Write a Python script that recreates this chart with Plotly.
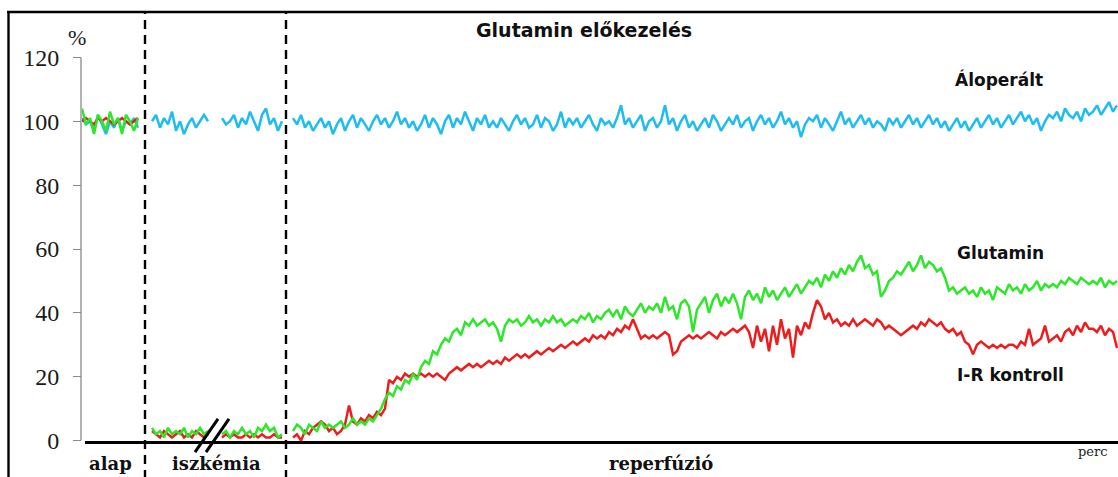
import plotly.graph_objects as go

# ---- recording time axis (sample positions, arbitrary units) ----
t_alap = list(range(0, 57, 4))        # baseline
t_isch1 = list(range(70, 127, 4))     # ischaemia, before the break
t_isch2 = list(range(140, 201, 4))    # ischaemia, after the break
t_rep = list(range(211, 1036, 4))     # reperfusion

PHASE_BOUNDS = [63, 204]
BREAK_T = 128

# ---- Áloperált (sham) ----
sham_alap = [101, 99, 100, 97, 102, 99, 96, 100, 98, 101, 97, 100, 99, 101, 98]
sham_isch1 = [100, 102, 98, 101, 99, 103, 97, 100, 96, 99, 101, 98, 100, 102, 100]
sham_isch2 = [101, 99, 100, 102, 98, 101, 99, 103, 100, 97, 102, 104, 99, 101, 97, 100]
sham_rep = [
    101, 99, 102, 98, 100, 97, 99, 101, 98, 100,
    96, 99, 101, 97, 100, 102, 98, 101, 99, 97,
    100, 102, 99, 101, 98, 100, 103, 99, 101, 98,
    100, 97, 99, 102, 98, 101, 99, 96, 100, 102,
    98, 101, 99, 103, 100, 97, 101, 99, 102, 98,
    100, 98, 101, 99, 97, 100, 102, 99, 101, 98,
    99, 102, 98, 101, 100, 97, 99, 103, 98, 101,
    99, 101, 98, 100, 102, 99, 97, 101, 99, 100,
    98, 101, 105, 99, 101, 98, 100, 102, 97, 100,
    101, 98, 100, 105, 99, 101, 97, 100, 102, 98,
    100, 97, 99, 101, 98, 102, 100, 97, 99, 101,
    99, 102, 98, 100, 101, 97, 100, 102, 99, 101,
    98, 100, 103, 99, 101, 98, 100, 95, 99, 101,
    100, 102, 98, 101, 99, 97, 100, 103, 99, 101,
    98, 100, 102, 99, 101, 98, 100, 99, 97, 101,
    99, 101, 98, 100, 102, 99, 101, 98, 100, 102,
    99, 101, 98, 100, 97, 99, 101, 98, 100, 97,
    99, 101, 98, 100, 102, 99, 101, 98, 100, 102,
    99, 101, 103, 100, 102, 99, 101, 97, 100, 102,
    101, 103, 100, 104, 102, 101, 103, 100, 104, 102,
    103, 105, 102, 104, 106, 103, 105,
]

# ---- I-R kontroll ----
ir_alap = [100, 101, 100, 99, 101, 100, 101, 100, 99, 100, 101, 100, 99, 100, 101]
ir_isch1 = [3, 2, 1, 3, 2, 1, 2, 3, 1, 2, 1, 3, 2, 1, 2]
ir_isch2 = [1, 2, 1, 2, 1, 1, 2, 1, 2, 1, 2, 1, 1, 2, 1, 1]
ir_rep = [
    1, 2, 0, 3, 2, 4, 5, 6, 5, 3,
    4, 2, 3, 5, 11, 6, 5, 7, 6, 8,
    7, 9, 8, 10, 19, 18, 20, 19, 21, 20,
    21, 20, 21, 20, 21, 20, 21, 20, 19, 21,
    22, 23, 22, 23, 24, 23, 24, 23, 24, 25,
    24, 25, 24, 26, 25, 26, 27, 26, 27, 26,
    27, 28, 27, 28, 29, 28, 29, 30, 29, 30,
    31, 30, 31, 32, 31, 33, 32, 33, 32, 34,
    33, 35, 34, 36, 35, 38, 35, 32, 33, 32,
    33, 32, 33, 34, 33, 27, 28, 31, 32, 33,
    32, 33, 32, 33, 34, 33, 32, 34, 33, 34,
    35, 34, 35, 36, 34, 29, 36, 31, 35, 28,
    36, 30, 38, 32, 35, 26, 36, 33, 37, 35,
    40, 44, 42, 38, 40, 37, 38, 36, 37, 36,
    38, 36, 37, 38, 37, 36, 38, 37, 35, 36,
    35, 34, 33, 34, 35, 36, 35, 37, 36, 38,
    37, 36, 37, 35, 34, 35, 33, 34, 31, 30,
    27, 30, 31, 30, 29, 30, 29, 30, 29, 30,
    30, 29, 31, 30, 35, 30, 31, 32, 36, 31,
    32, 33, 31, 34, 35, 33, 36, 34, 37, 35,
    35, 34, 36, 33, 35, 34, 29,
]

# ---- Glutamin ----
glu_alap = [104, 99, 101, 96, 102, 100, 97, 103, 99, 101, 96, 102, 100, 97, 101]
glu_isch1 = [4, 2, 3, 1, 4, 2, 3, 2, 4, 1, 3, 2, 4, 2, 3]
glu_isch2 = [2, 3, 1, 3, 2, 4, 2, 3, 1, 4, 3, 5, 3, 4, 1, 2]
glu_rep = [
    3, 5, 4, 2, 5, 4, 3, 6, 4, 5,
    4, 5, 6, 4, 5, 7, 5, 6, 5, 7,
    6, 8, 10, 13, 15, 14, 17, 16, 19, 18,
    21, 19, 23, 25, 24, 28, 27, 30, 32, 31,
    34, 35, 33, 37, 36, 38, 36, 37, 38, 36,
    37, 35, 31, 36, 38, 37, 38, 36, 37, 39,
    37, 38, 36, 38, 37, 39, 37, 38, 36, 37,
    38, 37, 39, 38, 40, 37, 39, 38, 40, 41,
    39, 41, 38, 42, 40, 39, 41, 43, 40, 42,
    41, 43, 40, 45, 41, 42, 38, 43, 44, 42,
    34, 41, 43, 45, 40, 44, 46, 42, 45, 43,
    46, 43, 38, 45, 47, 44, 46, 43, 48, 45,
    47, 44, 46, 48, 45, 47, 49, 46, 48, 50,
    49, 51, 48, 52, 50, 53, 51, 54, 52, 55,
    53, 56, 58, 54, 55, 52, 53, 45, 47, 50,
    51, 53, 52, 54, 56, 53, 55, 58, 54, 56,
    55, 53, 54, 51, 47, 48, 46, 47, 48, 46,
    47, 45, 48, 46, 47, 44, 48, 47, 46, 49,
    47, 48, 46, 49, 47, 48, 50, 47, 49, 48,
    49, 48, 50, 49, 51, 50, 49, 51, 50, 49,
    50, 49, 51, 48, 50, 49, 50,
]

Y_TICKS = [0, 20, 40, 60, 80, 100, 120]

SERIES = [
    ("Áloperált", "#1dbdf0", sham_alap, sham_isch1, sham_isch2, sham_rep),
    ("I-R kontroll", "#ee1c1c", ir_alap, ir_isch1, ir_isch2, ir_rep),
    ("Glutamin", "#2ee62a", glu_alap, glu_isch1, glu_isch2, glu_rep),
]

# ---- figure geometry ----
W, H = 1118, 477
ML, MR, MT, MB = 82, 0, 51, 30
X_RANGE = [0, 1036]
Y_RANGE = [-2, 122]
PW, PH = W - ML - MR, H - MT - MB


def px_x(px):
    return (px - ML) / PW


def px_y(py):
    return (H - MB - py) / PH


def t_to_paper(t):
    return (t - X_RANGE[0]) / (X_RANGE[1] - X_RANGE[0])


def v_to_paper(v):
    return (v - Y_RANGE[0]) / (Y_RANGE[1] - Y_RANGE[0])


def join(parts_t, parts_v):
    xs, ys = [], []
    for i, (tt, vv) in enumerate(zip(parts_t, parts_v)):
        if i:
            xs.append(None)
            ys.append(None)
        xs += tt
        ys += vv
    return xs, ys


fig = go.Figure()
segments_t = [t_alap, t_isch1, t_isch2, t_rep]
for name, color, a, i1, i2, r in SERIES:
    xs, ys = join(segments_t, [a, i1, i2, r])
    fig.add_trace(go.Scatter(
        x=xs, y=ys, mode="lines", name=name,
        line=dict(color=color, width=2.5),
        connectgaps=False, hoverinfo="skip",
    ))

shapes = []
# outer frame (top and left edges)
shapes.append(dict(type="line", xref="paper", yref="paper",
                   x0=px_x(7), x1=px_x(W + 2), y0=px_y(12), y1=px_y(12),
                   line=dict(color="black", width=2.4)))
shapes.append(dict(type="line", xref="paper", yref="paper",
                   x0=px_x(8.5), x1=px_x(8.5), y0=px_y(11), y1=px_y(H + 2),
                   line=dict(color="black", width=2.4)))
# y axis line from 0 to 120
shapes.append(dict(type="line", xref="paper", yref="paper",
                   x0=px_x(81), x1=px_x(81),
                   y0=v_to_paper(0), y1=v_to_paper(120),
                   line=dict(color="#8a8a8a", width=1.3)))
# heavy time axis line
shapes.append(dict(type="line", xref="paper", yref="paper",
                   x0=px_x(85), x1=1.01, y0=v_to_paper(-0.6), y1=v_to_paper(-0.6),
                   line=dict(color="black", width=3)))
# phase boundaries
for tb in PHASE_BOUNDS:
    shapes.append(dict(type="line", xref="paper", yref="paper",
                       x0=t_to_paper(tb), x1=t_to_paper(tb),
                       y0=px_y(H + 2), y1=px_y(12),
                       line=dict(color="black", width=2.4, dash="9px,6px")))
# axis break mark (double slash)
for dx in (0, 11):
    shapes.append(dict(type="line", xref="paper", yref="paper",
                       x0=t_to_paper(BREAK_T - 15 + dx), y0=v_to_paper(-3.6),
                       x1=t_to_paper(BREAK_T + 8 + dx), y1=v_to_paper(6.8),
                       line=dict(color="black", width=3)))

SERIF = "DejaVu Serif"
SANS = "DejaVu Sans"
annotations = [
    dict(text="<b>Glutamin előkezelés</b>", x=px_x(584), y=px_y(30),
         font=dict(family=SANS, size=19, color="#111")),
    dict(text="<b>Áloperált</b>", x=px_x(999), y=px_y(80),
         font=dict(family=SANS, size=17, color="#111")),
    dict(text="<b>Glutamin</b>", x=px_x(1000), y=px_y(253),
         font=dict(family=SANS, size=17, color="#111")),
    dict(text="<b>I-R kontroll</b>", x=px_x(1010), y=px_y(375),
         font=dict(family=SANS, size=17, color="#111")),
    dict(text="%", x=px_x(77), y=px_y(37),
         font=dict(family="Liberation Serif", size=22, color="#222")),
    dict(text="<b>alap</b>", x=px_x(110), y=px_y(464),
         font=dict(family=SERIF, size=18, color="#111")),
    dict(text="<b>iszkémia</b>", x=px_x(216), y=px_y(464),
         font=dict(family=SERIF, size=18, color="#111")),
    dict(text="<b>reperfúzió</b>", x=px_x(661), y=px_y(464),
         font=dict(family=SERIF, size=18, color="#111")),
    dict(text="perc", x=px_x(1093), y=px_y(452),
         font=dict(family=SERIF, size=13, color="#222")),
]
for a in annotations:
    a.update(xref="paper", yref="paper", showarrow=False,
             xanchor="center", yanchor="middle")

fig.update_layout(
    width=W, height=H,
    margin=dict(l=ML, r=MR, t=MT, b=MB, pad=0),
    paper_bgcolor="white", plot_bgcolor="white",
    showlegend=False,
    shapes=shapes,
    annotations=annotations,
    xaxis=dict(range=X_RANGE, visible=False, fixedrange=True),
    yaxis=dict(
        range=Y_RANGE, tickvals=Y_TICKS, showgrid=False, zeroline=False,
        showline=False, ticks="outside", ticklen=8, tickwidth=1.2,
        tickcolor="#8a8a8a", ticklabelstandoff=9,
        tickfont=dict(family="Liberation Serif", size=24, color="#1a1a1a"),
        fixedrange=True,
    ),
)

fig.write_html("out.html")
